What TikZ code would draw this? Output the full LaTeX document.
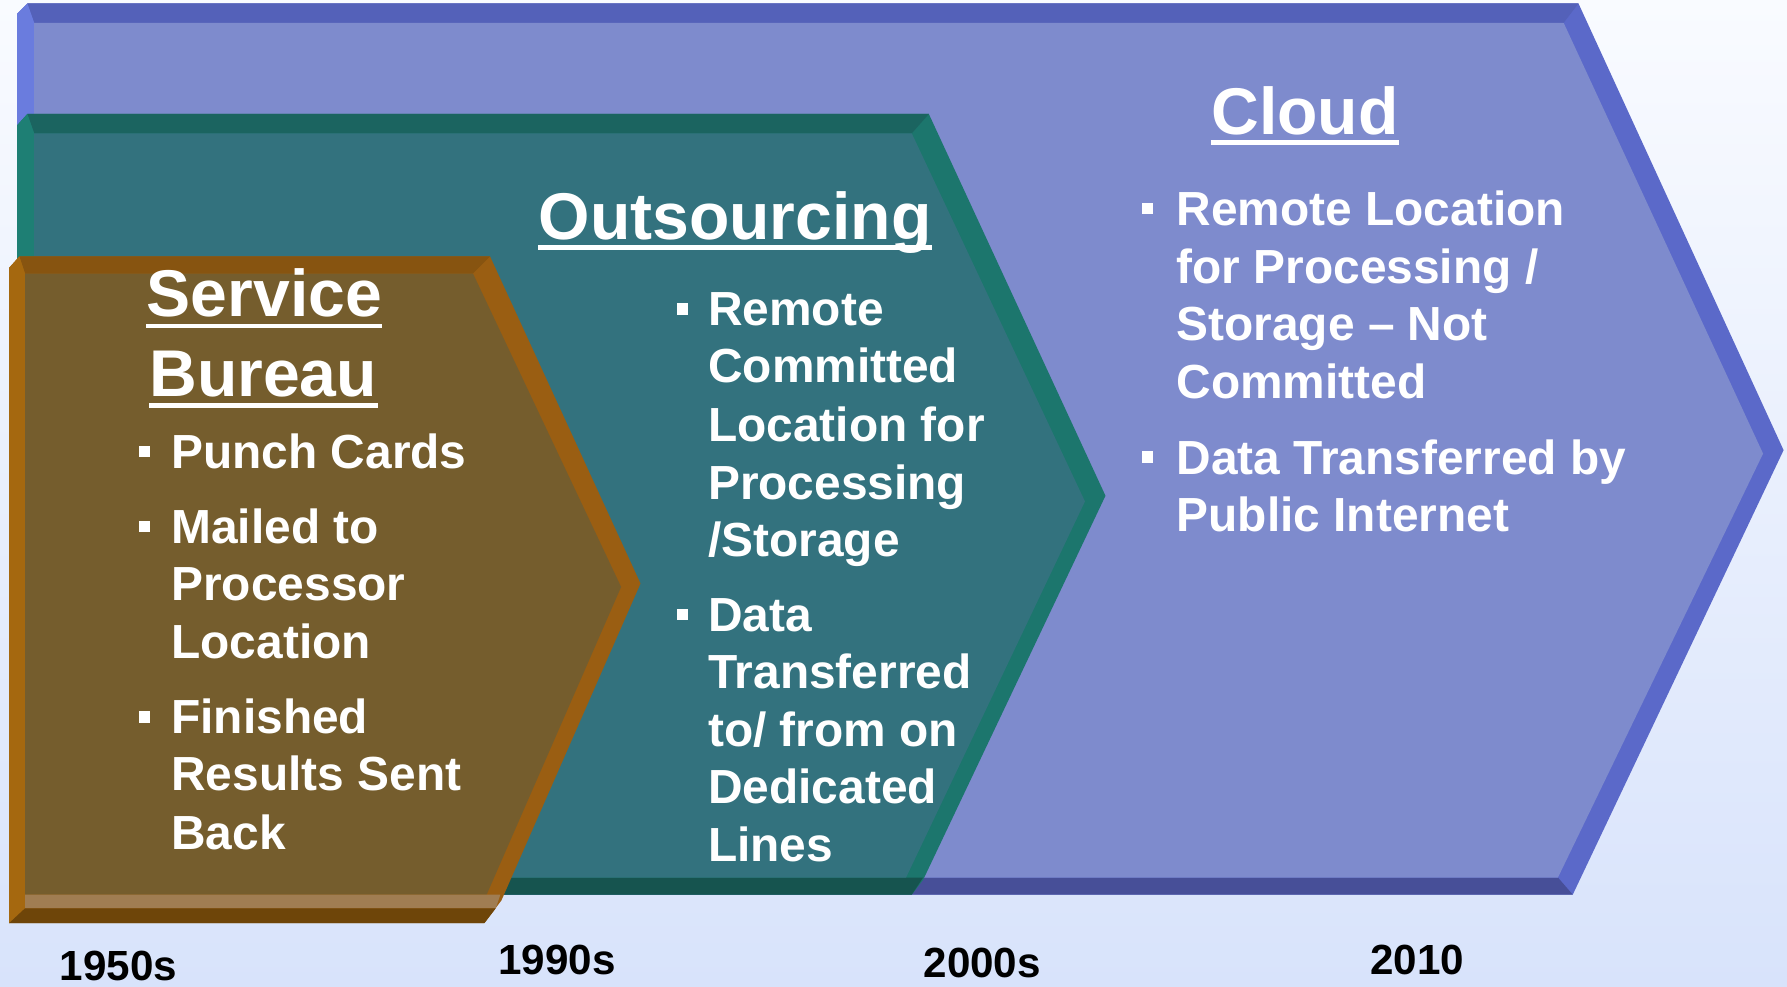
\documentclass[tikz,border=0pt]{standalone}
\usepackage{fontspec}
\setmainfont{Liberation Sans}
\usetikzlibrary{calc}
\definecolor{bgtop}{HTML}{F9FBFF}
\definecolor{bgbot}{HTML}{D8E3FB}
\definecolor{cloudface}{HTML}{7E8BCD}
\definecolor{cloudtop}{HTML}{5461B9}
\definecolor{cloudside}{HTML}{5B69C9}
\definecolor{cloudleft}{HTML}{6A7CDE}
\definecolor{cloudbot}{HTML}{474F98}
\definecolor{tealface}{HTML}{33727E}
\definecolor{tealtop}{HTML}{1B6460}
\definecolor{tealside}{HTML}{1C766D}
\definecolor{tealleft}{HTML}{1E7F74}
\definecolor{tealbot}{HTML}{16544F}
\definecolor{brownface}{HTML}{755D2D}
\definecolor{browntop}{HTML}{875410}
\definecolor{brownside}{HTML}{9A5E12}
\definecolor{brownleft}{HTML}{A5680F}
\definecolor{brownlight}{HTML}{A07D52}
\definecolor{browndark}{HTML}{6E4509}
\begin{document}
\begin{tikzpicture}[x=0.5pt,y=-0.5pt,
  ttl/.style={font=\bfseries\fontsize{29}{34}\selectfont, text=white, inner sep=0pt, anchor=base},
  bodytxt/.style={font=\bfseries\fontsize{21}{25}\selectfont, text=white, inner sep=0pt, anchor=base west},
  yeartxt/.style={font=\bfseries\fontsize{18.5}{22}\selectfont, text=black, inner sep=0pt, anchor=base west},
  bul/.style={fill=white, minimum size=5pt, inner sep=0pt, outer sep=0pt},
  ul/.style={fill=white}]
\useasboundingbox (0,0) rectangle (1568,866);
\shade[top color=bgtop, bottom color=bgbot] (0,0) rectangle (1568,866);

% Cloud chevron
\fill[cloudside] (15,12) -- (24,3) -- (1385,3) -- (1565,395) -- (1380,785) -- (15,785) -- cycle;
\fill[cloudtop] (24,3) -- (1385,3) -- (1372,20) -- (30,20) -- cycle;
\fill[cloudleft] (15,12) -- (24,3) -- (30,20) -- (30,770) -- (15,785) -- cycle;
\fill[cloudbot] (15,785) -- (30,770) -- (1367,770) -- (1380,785) -- cycle;
\fill[cloudface] (30,20) -- (1372,20) -- (1547,398) -- (1367,770) -- (30,770) -- cycle;

% Outsourcing chevron
\fill[tealside] (15,110) -- (24,100) -- (815,100) -- (970,435) -- (810,772) -- (800,785) -- (15,785) -- cycle;
\fill[tealtop] (24,100) -- (815,100) -- (800,117) -- (30,117) -- cycle;
\fill[tealleft] (15,110) -- (24,100) -- (30,117) -- (30,770) -- (15,785) -- cycle;
\fill[tealbot] (15,785) -- (30,770) -- (810,770) -- (800,785) -- cycle;
\fill[tealface] (30,117) -- (800,117) -- (952,440) -- (795,770) -- (30,770) -- cycle;

% Service Bureau chevron
\fill[brownside] (8,235) -- (17,225) -- (430,225) -- (562,512) -- (440,790) -- (425,810) -- (8,810) -- cycle;
\fill[browntop] (17,225) -- (430,225) -- (415,240) -- (22,240) -- cycle;
\fill[brownleft] (8,235) -- (17,225) -- (22,240) -- (22,797) -- (8,810) -- cycle;
\fill[brownface] (22,240) -- (415,240) -- (545,515) -- (427,785) -- (22,785) -- cycle;
\fill[brownlight] (22,785) -- (439,785) -- (435,797) -- (22,797) -- cycle;
\fill[browndark] (8,810) -- (22,797) -- (435,797) -- (425,810) -- cycle;

% Service Bureau text
\node[ttl] (sb1) at (232,278) {Service};
\node[ttl] (sb2) at (231,348) {Bureau};
\fill[ul] ($(sb1.base west)+(0,6)$) rectangle ($(sb1.base east)+(0,10)$);
\fill[ul] ($(sb2.base west)+(0,6)$) rectangle ($(sb2.base east)+(0,10)$);
\node[bul] (sbb1) at (127,396) {};
\node[bodytxt] (s1) at (150,411) {Punch Cards};
\node[bul] (sbb2) at (127,462) {};
\node[bodytxt] (s2a) at (150,477) {Mailed to};
\node[bodytxt] (s2b) at (150,527) {Processor};
\node[bodytxt] (s2c) at (150,578) {Location};
\node[bul] (sbb3) at (127,629) {};
\node[bodytxt] (s3a) at (150,644) {Finished};
\node[bodytxt] (s3b) at (150,694) {Results Sent};
\node[bodytxt] (s3c) at (150,745) {Back};

% Outsourcing text
\node[ttl] (ot) at (645,210) {Outsourcing};
\fill[ul] ($(ot.base west)+(0,5)$) rectangle ($(ot.base east)+(0,9)$);
\node[bul] (ob1) at (599,271) {};
\node[bodytxt] (o1a) at (621,286) {Remote};
\node[bodytxt] (o1b) at (621,336) {Committed};
\node[bodytxt] (o1c) at (621,387) {Location for};
\node[bodytxt] (o1d) at (621,438) {Processing};
\node[bodytxt] (o1e) at (621,488) {/Storage};
\node[bul] (ob2) at (599,539) {};
\node[bodytxt] (o2a) at (621,554) {Data};
\node[bodytxt] (o2b) at (621,604) {Transferred};
\node[bodytxt] (o2c) at (621,655) {to/ from on};
\node[bodytxt] (o2d) at (621,705) {Dedicated};
\node[bodytxt] (o2e) at (621,756) {Lines};

% Cloud text
\node[ttl] (ct) at (1145,118) {Cloud};
\fill[ul] ($(ct.base west)+(0,5)$) rectangle ($(ct.base east)+(0,9)$);
\node[bul] (cb1) at (1007,183) {};
\node[bodytxt] (c1a) at (1032,198) {Remote Location};
\node[bodytxt] (c1b) at (1032,249) {for Processing /};
\node[bodytxt] (c1c) at (1032,299) {Storage – Not};
\node[bodytxt] (c1d) at (1032,350) {Committed};
\node[bul] (cb2) at (1007,401) {};
\node[bodytxt] (c2a) at (1032,416) {Data Transferred by};
\node[bodytxt] (c2b) at (1032,466) {Public Internet};

% Years
\node[yeartxt] (y1) at (52,860) {1950s};
\node[yeartxt] (y2) at (437,855) {1990s};
\node[yeartxt] (y3) at (810,858) {2000s};
\node[yeartxt] (y4) at (1202,855) {2010};
\end{tikzpicture}
\end{document}
